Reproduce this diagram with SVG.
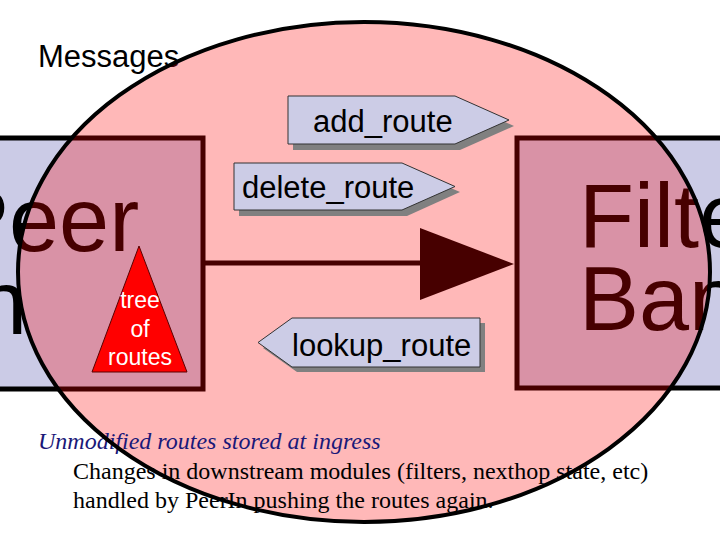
<svg xmlns="http://www.w3.org/2000/svg" width="720" height="540" viewBox="0 0 720 540">
<style>
.box{fill:#cbcbe6;stroke:#000;stroke-width:5}
.big{font-family:"Liberation Sans",Arial,sans-serif;font-size:90px;fill:#000}
.msg{fill:#ccccE6;stroke:#333;stroke-width:1}
.shadow{fill:#808080}
.lbl{font-family:"Liberation Sans",Arial,sans-serif;font-size:31px;fill:#000}
.tree{font-family:"Liberation Sans",Arial,sans-serif;font-size:23px;fill:#fff;text-anchor:middle}
.serif{font-family:"Liberation Serif","Times New Roman",serif;font-size:24px;fill:#000}
</style>
<rect width="720" height="540" fill="#fff"/>
<g id="peerin">
<rect class="box" x="-30" y="138" width="233" height="251"/>
<text class="big" x="-51" y="251">Peer</text>
<text class="big" x="-48" y="334">In</text>
</g>
<g id="filterbank">
<rect class="box" x="517" y="138" width="240" height="250"/>
<text class="big" x="579" y="247">Filter</text>
<text class="big" x="579" y="330">Bank</text>
</g>
<g id="connectors">
<line x1="203" y1="263" x2="425" y2="263" stroke="#000" stroke-width="5"/>
<polygon points="420,228 514,264 420,300" fill="#000"/>
</g>
<g id="messages-title">
<text class="lbl" x="38" y="67">Messages</text>
</g>
<g id="scope-fill">
<ellipse cx="364" cy="272" rx="346" ry="250" fill="#ff0000" fill-opacity="0.28"/>
</g>
<g id="tree">
<polygon points="139,246 187,372 92,372" fill="#ff0000" stroke="#5a0000" stroke-width="1"/>
<text class="tree" x="140" y="308">tree</text>
<text class="tree" x="140" y="337">of</text>
<text class="tree" x="140" y="365">routes</text>
</g>
<g id="add_route">
<polygon class="shadow" points="293,102 460,102 514,126 460,150 293,150"/>
<polygon class="msg" points="288,96 455,96 509,120 455,144 288,144"/>
<text class="lbl" x="313" y="132">add_route</text>
</g>
<g id="delete_route">
<polygon class="shadow" points="239,169 407,169 460,192 407,216 239,216"/>
<polygon class="msg" points="234,163 402,163 455,186.5 402,210 234,210"/>
<text class="lbl" x="242" y="198">delete_route</text>
</g>
<g id="lookup_route">
<polygon class="shadow" points="263,348 297,323 485,323 485,372 297,372"/>
<polygon class="msg" points="258,342.5 292,318 480,318 480,367 292,367"/>
<text class="lbl" x="292" y="356">lookup_route</text>
</g>
<g id="notes">
<text class="serif" x="38" y="449" font-style="italic" style="fill:#1a1878">Unmodified routes stored at ingress</text>
<text class="serif" x="73" y="479">Changes in downstream modules (filters, nexthop state, etc)</text>
<text class="serif" x="73" y="508">handled by PeerIn pushing the routes again.</text>
</g>
<g id="scope-outline">
<ellipse cx="364" cy="272" rx="346" ry="250" fill="none" stroke="#000" stroke-width="4"/>
</g>
</svg>
